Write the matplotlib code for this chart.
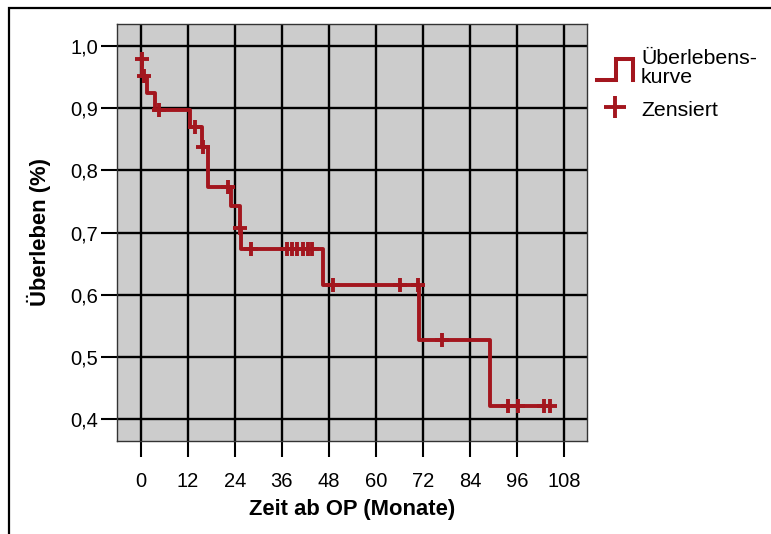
import matplotlib

matplotlib.use("Agg")
import matplotlib.pyplot as plt
from matplotlib.legend_handler import HandlerBase
from matplotlib.lines import Line2D
from matplotlib.patches import Rectangle

plt.rcParams["font.family"] = ["Liberation Sans", "DejaVu Sans"]

# Kaplan-Meier Schätzung: Zeitpunkte der Ereignisse (Monate) und Überleben danach
event_times = [0.0, 0.4, 1.5, 3.7, 12.5, 15.6, 17.1, 23.1, 25.2, 25.6, 46.4, 71.0, 89.1]
survival = [0.979, 0.952, 0.924, 0.897, 0.869, 0.837, 0.774, 0.742, 0.707, 0.673, 0.615, 0.527, 0.421]
follow_up_end = 104.4

# zensierte Beobachtungen
censor_times = [0.2, 0.8, 4.6, 13.8, 15.9, 22.2, 25.4, 28.0,
                37.2, 38.5, 39.9, 41.4, 42.7, 43.8,
                49.1, 66.1, 70.8, 76.8, 93.8, 96.3, 102.8, 104.4]

x_ticks = [0, 12, 24, 36, 48, 60, 72, 84, 96, 108]
y_ticks = [0.4, 0.5, 0.6, 0.7, 0.8, 0.9, 1.0]

RED = "#a3161e"


def surv_at(t):
    s = survival[0]
    for et, sv in zip(event_times, survival):
        if et <= t:
            s = sv
    return s


class HandlerStep(HandlerBase):
    def create_artists(self, legend, orig_handle, xdescent, ydescent,
                       width, height, fontsize, trans):
        x0, x1 = -xdescent, -xdescent + width
        xm = x0 + 0.55 * width
        y0, y1 = -ydescent - 0.1 * height, -ydescent + 1.0 * height
        line = Line2D([x0, xm, xm, x1, x1], [y0, y0, y1, y1, y0],
                      color=RED, lw=2.9, solid_joinstyle="miter")
        line.set_transform(trans)
        return [line]


fig = plt.figure(figsize=(7.71, 5.34), dpi=100)
ax = fig.add_axes([117 / 771, 0.175, 470 / 771, 0.78])
ax.set_facecolor("#cccccc")

ax.step(event_times + [follow_up_end], survival + [survival[-1]],
        where="post", color=RED, lw=2.8, zorder=3)
ax.plot(censor_times, [surv_at(t) for t in censor_times], ls="none",
        marker="+", ms=9.5, mew=2.8, color=RED, zorder=4)

ax.set_xlim(-6.1, 113.9)
ax.set_ylim(0.3654, 1.0354)
ax.set_xticks(x_ticks)
ax.set_yticks(y_ticks)
ax.set_yticklabels([f"{v:.1f}".replace(".", ",") for v in y_ticks])
ax.grid(True, color="black", lw=1.7)
ax.set_axisbelow(True)
ax.tick_params(direction="out", length=11.5, width=1.5, color="black",
               labelsize=14.5)
ax.tick_params(axis="x", pad=11)
ax.tick_params(axis="y", pad=2)
for sp in ax.spines.values():
    sp.set_color("#333333")
    sp.set_linewidth(1.0)

ax.set_xlabel("Zeit ab OP (Monate)", fontsize=15.8, fontweight="bold")
ax.set_ylabel("Überleben (%)", fontsize=15.8, fontweight="bold")
ax.xaxis.set_label_coords(0.5, -0.14)
ax.yaxis.set_label_coords(-0.14, 0.5)

step_handle = Line2D([], [], color=RED)
cens_handle = Line2D([], [], ls="none", marker="+", ms=16, mew=2.8, color=RED)
leg = fig.legend([step_handle, cens_handle], ["Überlebens-\nkurve", "Zensiert"],
                 handler_map={step_handle: HandlerStep()},
                 loc="upper left", bbox_to_anchor=(588 / 771, 1 - 40 / 534),
                 frameon=False, fontsize=15.3, handlelength=1.7, handleheight=1.0,
                 handletextpad=0.4, labelspacing=0.55, borderaxespad=0)
for t in leg.get_texts():
    t.set_linespacing(1.05)

# Rahmen um die ganze Abbildung
fig.add_artist(Rectangle((9 / 771, -0.5), 2.0, 0.5 + 1 - 8 / 534, fill=False,
                         ec="black", lw=1.6, transform=fig.transFigure, clip_on=False))

fig.savefig("out.png", dpi=100)
